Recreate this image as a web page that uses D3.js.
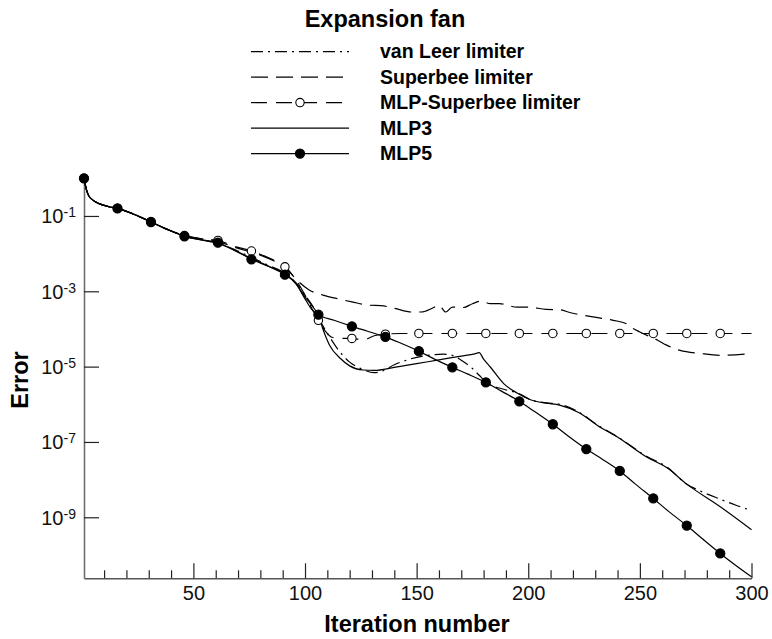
<!DOCTYPE html>
<html>
<head>
<meta charset="utf-8">
<script src="https://cdn.jsdelivr.net/npm/d3@7"></script>
<style>
  html, body { margin: 0; padding: 0; background: #fff; }
  svg { display: block; font-family: "Liberation Sans", Arial, Helvetica, sans-serif; }
</style>
</head>
<body>
<svg id="chart" width="772" height="639"></svg>
<script>
// ---------------- DATA (error values stored as log10(error)) ----------------
const chartTitle = "Expansion fan";
const xTitle = "Iteration number";
const yTitle = "Error";
const seriesNames = ["van Leer limiter", "Superbee limiter", "MLP-Superbee limiter", "MLP3", "MLP5"];

const xMajorTicks = [50, 100, 150, 200, 250, 300];
const xMinorTicks = [10, 20, 30, 40, 60, 70, 80, 90, 110, 120, 130, 140, 160, 170, 180, 190, 210, 220, 230, 240, 260, 270, 280, 290];
const yTickExponents = [-1, -3, -5, -7, -9];
const markerIters = [1, 16, 31, 46, 61, 76, 91, 106, 121, 136, 151, 166, 181, 196, 211, 226, 241, 256, 271, 286];

const vanLeerIter = [1, 2, 3, 5, 8, 12, 16, 24, 31, 38, 46, 53, 61, 68, 76, 84, 91, 96, 100, 104, 107, 111, 115, 120, 125, 131, 134, 140, 147, 155, 162, 166, 170, 175, 178, 182, 189, 196, 201, 208, 214, 223, 231, 241, 253, 262, 271, 277, 286, 293, 300];
const vanLeerLogErr = [0, -0.28, -0.45, -0.58, -0.68, -0.75, -0.8, -0.97, -1.16, -1.35, -1.53, -1.62, -1.72, -1.88, -2.1, -2.32, -2.52, -2.78, -3.1, -3.45, -3.81, -4.21, -4.56, -4.88, -5.05, -5.16, -5.13, -4.95, -4.8, -4.7, -4.67, -4.7, -4.83, -5.05, -5.23, -5.45, -5.6, -5.72, -5.88, -5.96, -6.0, -6.22, -6.55, -6.9, -7.38, -7.66, -8.12, -8.3, -8.52, -8.68, -8.82];

const superbeeIter = [1, 2, 3, 5, 8, 12, 16, 24, 31, 38, 46, 53, 61, 69, 80, 87, 91, 96, 102, 108, 114, 121, 129, 134, 140, 148, 152, 157, 160, 163, 166, 171, 175, 179, 183, 187, 195, 200, 208, 214, 219, 229, 238, 244, 246, 250, 258, 262, 268, 277, 286, 300];
const superbeeLogErr = [0, -0.28, -0.45, -0.58, -0.68, -0.75, -0.8, -0.97, -1.16, -1.35, -1.52, -1.6, -1.68, -1.84, -2.04, -2.22, -2.35, -2.68, -2.97, -3.1, -3.19, -3.28, -3.37, -3.38, -3.45, -3.55, -3.55, -3.45, -3.37, -3.55, -3.42, -3.43, -3.33, -3.26, -3.33, -3.33, -3.42, -3.42, -3.48, -3.49, -3.57, -3.68, -3.77, -3.86, -3.95, -4.08, -4.3, -4.43, -4.57, -4.65, -4.7, -4.65];

const mlpSuperbeeIter = [1, 2, 3, 5, 8, 12, 16, 24, 31, 38, 46, 53, 61, 68, 76, 84, 91, 96, 100, 103, 106, 109, 112, 116, 121, 126, 131, 136, 143, 151, 166, 181, 196, 211, 226, 241, 256, 271, 286, 300];
const mlpSuperbeeLogErr = [0, -0.28, -0.45, -0.58, -0.68, -0.75, -0.8, -0.97, -1.16, -1.35, -1.52, -1.6, -1.65, -1.8, -1.93, -2.12, -2.35, -2.7, -3.1, -3.45, -3.77, -4.05, -4.22, -4.25, -4.25, -4.29, -4.18, -4.14, -4.12, -4.12, -4.12, -4.12, -4.12, -4.12, -4.12, -4.12, -4.12, -4.12, -4.12, -4.12];

const mlp3Iter = [1, 2, 3, 5, 8, 12, 16, 24, 31, 38, 46, 53, 61, 68, 76, 84, 91, 96, 100, 104, 106, 108, 111, 116, 120, 126, 131, 140, 150, 160, 170, 176, 178, 180, 183, 189, 195, 201, 208, 214, 223, 231, 241, 253, 262, 271, 286, 300];
const mlp3LogErr = [0, -0.28, -0.45, -0.58, -0.68, -0.75, -0.8, -0.97, -1.16, -1.35, -1.54, -1.63, -1.73, -1.9, -2.13, -2.34, -2.53, -2.8, -3.15, -3.45, -3.64, -4.0, -4.43, -4.79, -4.98, -5.09, -5.1, -5.02, -4.92, -4.82, -4.72, -4.66, -4.63, -4.8, -5.01, -5.45, -5.7, -5.88, -5.97, -6.02, -6.23, -6.56, -6.91, -7.4, -7.68, -8.12, -8.72, -9.33];

const mlp5Iter = [1, 2, 3, 5, 8, 12, 16, 24, 31, 38, 46, 53, 61, 68, 76, 84, 91, 96, 100, 103, 106, 113, 121, 128, 136, 143, 151, 158, 166, 173, 181, 188, 196, 203, 211, 218, 226, 233, 241, 248, 256, 263, 271, 278, 286, 293, 300];
const mlp5LogErr = [0, -0.28, -0.45, -0.58, -0.68, -0.75, -0.8, -0.97, -1.16, -1.35, -1.54, -1.63, -1.71, -1.9, -2.15, -2.35, -2.56, -2.8, -3.2, -3.48, -3.62, -3.77, -3.93, -4.06, -4.21, -4.38, -4.59, -4.8, -5.02, -5.2, -5.42, -5.65, -5.92, -6.2, -6.53, -6.85, -7.19, -7.45, -7.77, -8.12, -8.5, -8.85, -9.22, -9.57, -9.96, -10.28, -10.58];

// ---------------- LAYOUT ----------------
const svg = d3.select("#chart");
const FONT = '"Liberation Sans", Arial, Helvetica, sans-serif';

const x = d3.scaleLinear().domain([1, 300]).range([84, 751.5]);
const y = d3.scaleLog().domain([Math.pow(10, -10.62), 1]).range([578.3, 178.3]);

const toPts = (iters, logs) => iters.map((it, i) => ({ it: it, v: Math.pow(10, logs[i]) }));

const series = [
  { name: seriesNames[0], pts: toPts(vanLeerIter, vanLeerLogErr), dash: "12,5,2,5", marker: null },
  { name: seriesNames[1], pts: toPts(superbeeIter, superbeeLogErr), dash: "17,8", marker: null },
  { name: seriesNames[2], pts: toPts(mlpSuperbeeIter, mlpSuperbeeLogErr), dash: "16,9", marker: "open" },
  { name: seriesNames[3], pts: toPts(mlp3Iter, mlp3LogErr), dash: null, marker: null },
  { name: seriesNames[4], pts: toPts(mlp5Iter, mlp5LogErr), dash: null, marker: "filled" }
];

// ---------------- AXES ----------------
const xMinor = d3.axisBottom(x).tickValues(xMinorTicks).tickSizeInner(-8).tickSizeOuter(0).tickFormat("");
const xMajor = d3.axisBottom(x).tickValues(xMajorTicks).tickSizeInner(-15).tickSizeOuter(0).tickPadding(7.5).tickFormat(d3.format("d"));

const gxMinor = svg.append("g").attr("transform", "translate(0,578.3)").call(xMinor);
gxMinor.select(".domain").remove();
const gx = svg.append("g").attr("transform", "translate(0,578.3)").call(xMajor);
gx.select(".domain").attr("stroke", "#555").attr("stroke-width", 1.6);
svg.selectAll(".tick line").attr("stroke", "#222").attr("stroke-width", 1.2);
gx.selectAll(".tick text").attr("font-family", FONT).attr("font-size", 20).attr("fill", "#111");

const yAxis = d3.axisLeft(y).tickValues(yTickExponents.map(e => Math.pow(10, e))).tickSizeInner(-15).tickSizeOuter(0).tickFormat("");
const gy = svg.append("g").attr("transform", "translate(84,0)").call(yAxis);
gy.select(".domain").attr("stroke", "#6e6e6e").attr("stroke-width", 1.6);
gy.selectAll(".tick line").attr("stroke", "#222").attr("stroke-width", 1.2);

const ylab = svg.append("g").selectAll("g").data(yTickExponents).join("g")
  .attr("transform", e => `translate(0,${y(Math.pow(10, e))})`);
ylab.append("text").attr("x", 63.5).attr("y", 7.5).attr("text-anchor", "end")
  .attr("font-family", FONT).attr("font-size", 20).attr("fill", "#111").text("10");
ylab.append("text").attr("x", 63.5).attr("y", 1.5).attr("text-anchor", "start")
  .attr("font-family", FONT).attr("font-size", 14).attr("fill", "#111").text(e => String(e));

// axis titles
svg.append("text").attr("x", 417).attr("y", 632).attr("text-anchor", "middle")
  .attr("font-family", FONT).attr("font-weight", "bold").attr("font-size", 23.5).text(xTitle);
svg.append("text").attr("transform", "translate(28.3,380) rotate(-90)").attr("text-anchor", "middle")
  .attr("font-family", FONT).attr("font-weight", "bold").attr("font-size", 23.5).text(yTitle);

// ---------------- LINES ----------------
const line = d3.line().x(d => x(d.it)).y(d => y(d.v)).curve(d3.curveMonotoneX);
const plot = svg.append("g");
series.forEach(s => {
  plot.append("path").datum(s.pts).attr("d", line)
    .attr("fill", "none").attr("stroke", "#000").attr("stroke-width", 1.2)
    .attr("stroke-dasharray", s.dash);
});
// markers: open first, filled on top
["open", "filled"].forEach(kind => {
  series.filter(s => s.marker === kind).forEach(s => {
    const mk = s.pts.filter(p => markerIters.includes(p.it));
    plot.selectAll(null).data(mk).join("circle")
      .attr("cx", d => x(d.it)).attr("cy", d => y(d.v))
      .attr("r", kind === "filled" ? 4.6 : 4.2)
      .attr("fill", kind === "filled" ? "#000" : "#fff")
      .attr("stroke", "#000").attr("stroke-width", 1.1);
  });
});

// ---------------- TITLE & LEGEND ----------------
svg.append("text").attr("x", 385).attr("y", 27).attr("text-anchor", "middle")
  .attr("font-family", FONT).attr("font-weight", "bold").attr("font-size", 23.5).text(chartTitle);

const leg = svg.append("g").selectAll("g").data(series).join("g")
  .attr("transform", (d, i) => `translate(0,${51.6 + i * 25.5})`);
leg.append("line").attr("x1", 251).attr("x2", 349).attr("y1", 0).attr("y2", 0)
  .attr("stroke", "#000").attr("stroke-width", 1.2).attr("stroke-dasharray", d => d.dash);
leg.filter(d => d.marker).append("circle").attr("cx", 300).attr("cy", 0)
  .attr("r", d => d.marker === "filled" ? 4.6 : 4.2)
  .attr("fill", d => d.marker === "filled" ? "#000" : "#fff")
  .attr("stroke", "#000").attr("stroke-width", 1.1);
leg.append("text").attr("x", 380).attr("y", 6.5)
  .attr("font-family", FONT).attr("font-weight", "bold").attr("font-size", 19.5).text(d => d.name);
</script>
</body>
</html>
